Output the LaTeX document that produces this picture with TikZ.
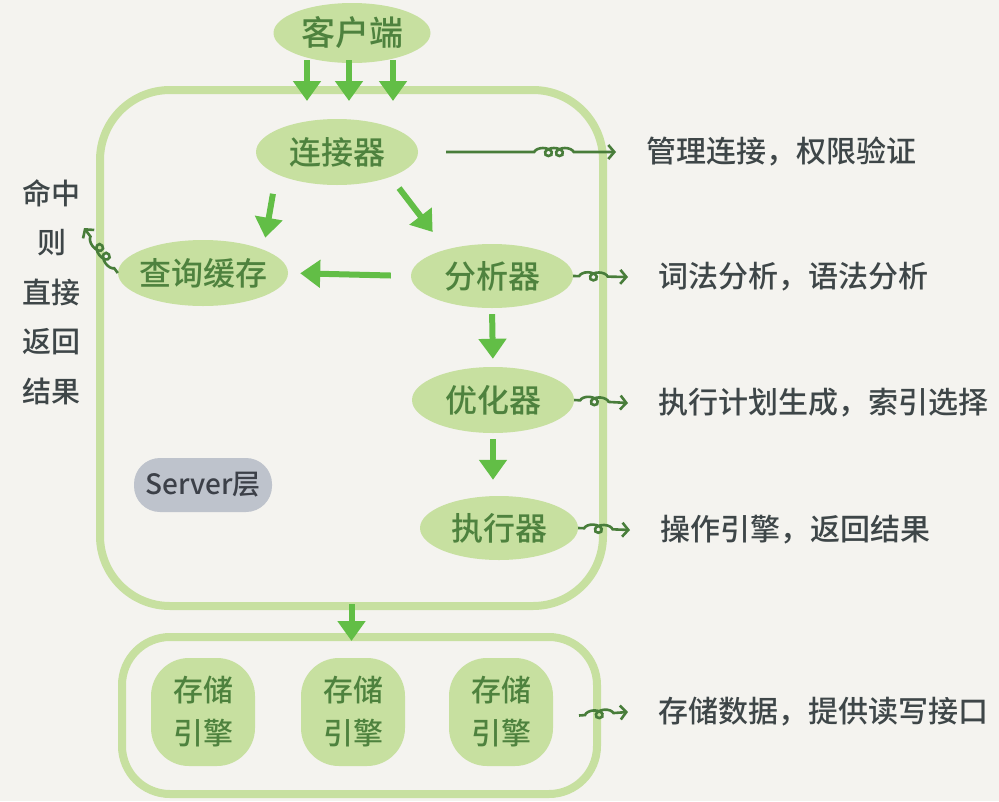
\documentclass[tikz,border=0pt]{standalone}
\usepackage{fontspec}
\setmainfont{Noto Sans CJK SC}[UprightFont=* Medium]
\usetikzlibrary{shapes.geometric, arrows.meta, decorations.pathmorphing, calc}
\definecolor{paper}{RGB}{244,243,239}
\definecolor{leaf}{RGB}{199,224,160}
\definecolor{leafink}{RGB}{78,130,62}
\definecolor{sprout}{RGB}{98,190,70}
\definecolor{twig}{RGB}{72,125,58}
\definecolor{ink}{RGB}{62,70,72}
\definecolor{slate}{RGB}{190,195,204}
\definecolor{slateink}{RGB}{60,64,72}
\tikzstyle{module}=[ellipse, fill=leaf, text=leafink, inner sep=0pt, inner xsep=-6pt, minimum width=162pt, minimum height=66pt, font=\fontsize{32}{32}\selectfont]
\tikzstyle{engine}=[rectangle, rounded corners=38pt, fill=leaf, text=leafink, minimum width=104pt, minimum height=108pt, align=center, font=\fontsize{30}{43}\selectfont]
\tikzstyle{layer}=[rectangle, draw=leaf, line width=8pt, rounded corners=60pt, inner sep=0pt]
\tikzstyle{tag}=[rectangle, rounded corners=26pt, fill=slate, text=slateink, minimum width=138pt, minimum height=54pt, font=\fontsize{28}{28}\selectfont]
\tikzstyle{note}=[anchor=west, text=ink, inner sep=2pt, outer sep=28pt, font=\fontsize{30}{30}\selectfont]
\tikzstyle{hit}=[text=ink, align=center, inner sep=0pt, font=\fontsize{29}{49.5}\selectfont]
\tikzstyle{flow}=[line width=6pt, draw=sprout, -{Triangle[width=27pt, length=20pt]}]
\tikzstyle{remark}=[line width=2.6pt, draw=twig, -{Straight Barb[length=6pt, width=14pt]}, decorate, decoration={coil, amplitude=4pt, segment length=11pt, aspect=1.5, pre length=6pt, post length=10pt}]

\begin{document}
\begin{tikzpicture}[x=1pt, y=-1pt]
    \useasboundingbox (0,0) rectangle (999,801);
    \fill[paper] (0,0) rectangle (999,801);
% Layers
    \node[layer, minimum width=503pt, minimum height=516pt, rounded corners=70pt] (server) at (351.5,348) {};
    \node[layer, rounded corners=48pt, minimum width=475pt, minimum height=157pt] (storage) at (359.5,715.5) {};
% Modules
    \node[module, minimum width=157pt, minimum height=60pt, font=\fontsize{34}{34}\selectfont] (client) at (352,33) {客户端};
    \node[module] (connect) at (337,152) {连接器};
    \node[module, minimum width=170pt] (cache) at (203,273) {查询缓存};
    \node[module, minimum height=64pt] (parse) at (492,276) {分析器};
    \node[module] (optim) at (493,400) {优化器};
    \node[module, minimum width=158pt, minimum height=64pt] (exec) at (499,528) {执行器};
    \node[tag] (server_tag) at (203,485) {Server层};
% Engines
    \node[engine] (engine1) at (203,712) {存储\\引擎};
    \node[engine] (engine2) at (353,712) {存储\\引擎};
    \node[engine] (engine3) at (501,712) {存储\\引擎};
% Notes
    \node[hit] (hit_text) at (52,292) {命中\\则\\直接\\返回\\结果};
    \coordinate (hit) at (84,228);
    \node[note] (connect_note) at (616,152) {管理连接，权限验证};
    \node[note] (parse_note) at (628,277) {词法分析，语法分析};
    \node[note] (optim_note) at (628,403) {执行计划生成，索引选择};
    \node[note] (exec_note) at (630,530) {操作引擎，返回结果};
    \node[note] (storage_note) at (628,712) {存储数据，提供读写接口};
% Flow
    \draw[flow] ($(client.south)+(-45,-3)$) -- ($(client.south |- server.north)+(-45,15)$);
    \draw[flow] ($(client.south)+(-3,-3)$) -- ($(client.south |- server.north)+(-3,15)$);
    \draw[flow] ($(client.south)+(41,-3)$) -- ($(client.south |- server.north)+(41,15)$);
    \draw[flow, shorten <=20pt, shorten >=12pt] (connect.200) -- (cache.north east);
    \draw[flow, shorten <=14pt, shorten >=22pt] (connect.-25) -- (parse.150);
    \draw[flow, shorten <=20pt, shorten >=12pt] (parse.west) -- (cache.east);
    \draw[flow, shorten <=6pt, shorten >=8pt] (parse.south) -- (optim.north);
    \draw[flow, shorten <=6pt, shorten >=16pt] (optim.south) -- (optim.south |- exec.north);
    \draw[flow, shorten <=-6pt, shorten >=-8pt] (server.south) -- (server.south |- storage.north);
% Remarks
    \draw[remark] (cache.west) -- (hit);
    \draw[remark, decoration={pre length=88pt, post length=34pt}] ([xshift=28pt]connect.east) -- (connect_note.west);
    \draw[remark] (parse.east) -- (parse_note.west);
    \draw[remark] (optim.east) -- (optim_note.west);
    \draw[remark] (exec.east) -- (exec_note.west);
    \draw[remark] ([xshift=-22pt]storage.east) -- (storage_note.west);
\end{tikzpicture}
\end{document}
